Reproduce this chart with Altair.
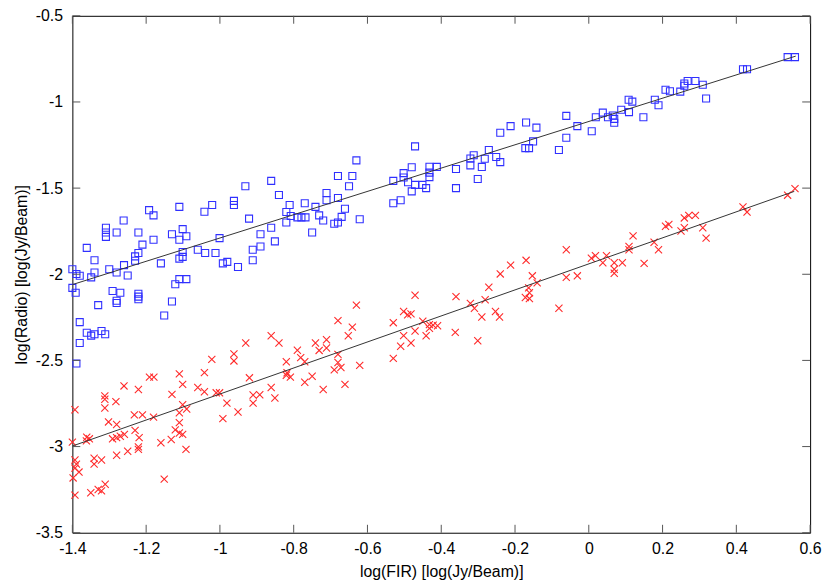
import altair as alt
import pandas as pd

# ---- data ----
blue_x = [-1.400, -1.389, -1.380, -1.400, -1.391, -1.361, -1.340, -1.340, -1.349, -1.309,
          -1.309, -1.309, -1.280, -1.261, -1.192, -1.180, -1.221, -1.210, -1.221, -1.230,
          -1.230, -1.260, -1.250, -1.300, -1.280, -1.180, -1.160, -1.110, -1.130, -1.101,
          -1.110, -1.091, -1.101, -1.101, -1.110, -1.060, -1.040, -1.012, -1.042, -1.021,
          -0.962, -0.962, -0.921, -1.001, -0.992, -0.980, -0.951, -0.911, -0.911,
          -1.110, -1.091, -1.121, -1.291, -1.270, -1.280, -1.280, -1.221, -1.221, -1.221,
          -1.330, -1.130, -1.151, -1.380, -1.361, -1.349, -1.340, -1.321, -1.311, -1.380,
          -1.389,
          -0.471, -0.630, -0.861, -0.931, -0.840, -0.680, -0.641, -0.650, -0.711, -0.711,
          -0.680, -0.811, -0.820, -0.820, -0.808, -0.790, -0.779, -0.768, -0.770, -0.741,
          -0.731, -0.720, -0.661, -0.670, -0.690, -0.680, -0.621, -0.750, -0.861, -0.890,
          -0.851, -0.890, -0.530, -0.502, -0.502, -0.490, -0.480, -0.471, -0.451, -0.441,
          -0.480, -0.530, -0.510, -0.432, -0.432, -0.432,
          -0.061, 0.019, 0.038, 0.052, 0.065, -0.031, 0.008, -0.061, -0.081, -0.170,
          -0.142, -0.212, -0.240, -0.151, -0.162, -0.172, -0.271, -0.312, -0.321, -0.321,
          -0.282, -0.251, -0.240, -0.290, -0.301, -0.360, -0.360, -0.412,
          0.539, 0.559, 0.418, 0.429, 0.268, 0.289, 0.259, 0.259, 0.309, 0.318,
          0.208, 0.220, 0.248, 0.179, 0.189, 0.108, 0.118, 0.109, 0.088, 0.069,
          0.069, 0.148]
blue_y = [-1.971, -1.998, -2.009, -2.079, -2.107, -1.847, -1.919, -1.990, -2.018, -1.730,
          -1.758, -1.783, -1.758, -1.688, -1.628, -1.658, -1.758, -1.828, -1.877, -1.896,
          -1.922, -1.947, -2.007, -1.971, -1.990, -1.800, -1.937, -1.609, -1.768, -1.738,
          -1.800, -1.779, -1.871, -1.899, -1.909, -1.858, -1.877, -1.877, -1.637, -1.598,
          -1.574, -1.598, -1.677, -1.790, -1.937, -1.928, -1.958, -1.858, -1.919,
          -2.028, -2.028, -2.058, -2.097, -2.107, -2.154, -2.167, -2.113, -2.130, -2.145,
          -2.179, -2.158, -2.239, -2.278, -2.339, -2.356, -2.348, -2.329, -2.348, -2.399,
          -2.518,
          -1.258, -1.339, -1.458, -1.489, -1.540, -1.430, -1.430, -1.489, -1.528, -1.570,
          -1.557, -1.598, -1.639, -1.700, -1.662, -1.670, -1.670, -1.670, -1.588, -1.609,
          -1.658, -1.688, -1.620, -1.667, -1.707, -1.700, -1.681, -1.758, -1.730, -1.768,
          -1.809, -1.839, -1.458, -1.413, -1.438, -1.466, -1.379, -1.481, -1.481, -1.500,
          -1.519, -1.588, -1.570, -1.376, -1.410, -1.436,
          -1.081, -1.089, -1.062, -1.089, -1.079, -1.140, -1.170, -1.208, -1.279, -1.119,
          -1.149, -1.140, -1.179, -1.229, -1.268, -1.268, -1.279, -1.309, -1.328, -1.368,
          -1.330, -1.319, -1.349, -1.377, -1.447, -1.389, -1.500, -1.377,
          -0.740, -0.740, -0.810, -0.810, -0.878, -0.878, -0.893, -0.906, -0.900, -0.980,
          -0.929, -0.938, -0.940, -0.987, -1.019, -0.987, -0.998, -1.059, -1.045, -1.098,
          -1.121, -1.089]

red_x = [-1.393, -1.400, -1.361, -1.354, -1.362, -1.312, -1.312, -1.312, -1.282, -1.260,
         -1.221, -1.191, -1.179, -1.110, -1.101, -1.042, -1.060, -1.042, -1.130, -1.010,
         -1.001, -1.022, -0.962, -0.962, -0.920, -0.910, -0.910, -0.981, -0.951, -0.992,
         -1.101, -1.090, -1.110, -1.110, -1.121, -1.110, -1.101, -1.132, -1.092, -1.160,
         -1.232, -1.210, -1.180, -1.302, -1.280, -1.230, -1.291, -1.280, -1.270, -1.259,
         -1.219, -1.221, -1.221, -1.250, -1.280, -1.393, -1.389, -1.393, -1.382, -1.398,
         -1.341, -1.341, -1.321, -1.393, -1.350, -1.330, -1.321, -1.311, -1.151, -0.930,
         -0.471, -0.630, -0.680, -0.641, -0.652, -0.861, -0.840, -0.741, -0.731, -0.711,
         -0.711, -0.790, -0.781, -0.770, -0.820, -0.680, -0.680, -0.672, -0.690, -0.621,
         -0.818, -0.809, -0.820, -0.750, -0.770, -0.720, -0.661, -0.861, -0.851, -0.892,
         -0.530, -0.502, -0.491, -0.482, -0.502, -0.482, -0.510, -0.530, -0.471, -0.450,
         -0.432, -0.422, -0.410, -0.441, -0.432,
         -0.061, 0.007, 0.018, 0.038, 0.048, 0.069, 0.091, 0.069, 0.069, -0.170,
         -0.212, -0.240, -0.153, -0.140, -0.061, -0.031, -0.163, -0.161, -0.172, -0.161,
         -0.081, -0.271, -0.360, -0.321, -0.310, -0.281, -0.253, -0.242, -0.290, -0.362,
         -0.301,
         0.539, 0.559, 0.418, 0.429, 0.259, 0.271, 0.289, 0.259, 0.250, 0.309,
         0.318, 0.208, 0.217, 0.177, 0.189, 0.120, 0.109, 0.109, 0.150]
red_y = [-2.786, -2.974, -2.946, -2.955, -2.967, -2.706, -2.725, -2.776, -2.739, -2.648,
         -2.669, -2.597, -2.597, -2.578, -2.639, -2.571, -2.657, -2.682, -2.697, -2.688,
         -2.688, -2.494, -2.462, -2.503, -2.601, -2.701, -2.748, -2.748, -2.799, -2.838,
         -2.757, -2.782, -2.804, -2.861, -2.903, -2.921, -2.929, -2.959, -3.016, -2.978,
         -2.816, -2.816, -2.829, -2.857, -2.872, -2.906, -2.955, -2.948, -2.940, -2.929,
         -2.948, -3.002, -3.016, -3.027, -3.050, -3.078, -3.102, -3.125, -3.148, -3.182,
         -3.068, -3.102, -3.078, -3.282, -3.268, -3.249, -3.257, -3.219, -3.189, -2.399,
         -2.122, -2.179, -2.269, -2.307, -2.357, -2.357, -2.399, -2.399, -2.442, -2.380,
         -2.428, -2.441, -2.484, -2.508, -2.508, -2.465, -2.512, -2.541, -2.555, -2.529,
         -2.572, -2.597, -2.586, -2.592, -2.627, -2.669, -2.639, -2.657, -2.718, -2.699,
         -2.281, -2.216, -2.235, -2.230, -2.356, -2.399, -2.418, -2.488, -2.329, -2.273,
         -2.292, -2.295, -2.299, -2.357, -2.314,
         -1.858, -1.907, -1.892, -1.933, -1.892, -1.933, -1.933, -1.971, -1.994, -1.919,
         -1.947, -1.998, -2.009, -2.050, -2.018, -2.009, -2.079, -2.107, -2.135, -2.141,
         -2.197, -2.075, -2.130, -2.169, -2.197, -2.148, -2.216, -2.248, -2.248, -2.337,
         -2.386,
         -1.541, -1.503, -1.609, -1.639, -1.673, -1.658, -1.658, -1.730, -1.749, -1.730,
         -1.790, -1.721, -1.711, -1.814, -1.858, -1.777, -1.839, -1.858, -1.937]

# fitted lines (end points)
fit_blue_x = [-1.400, 0.561]
fit_blue_y = [-2.060, -0.734]
fit_red_x = [-1.400, 0.557]
fit_red_y = [-2.997, -1.519]

x_ticks = [-1.4, -1.2, -1.0, -0.8, -0.6, -0.4, -0.2, 0.0, 0.2, 0.4, 0.6]
y_ticks = [-3.5, -3.0, -2.5, -2.0, -1.5, -1.0, -0.5]

x_title = "log(FIR) [log(Jy/Beam)]"
y_title = "log(Radio) [log(Jy/Beam)]"

# ---- chart ----
W, H = 745, 522
TICK = 8
FONT = "Liberation Sans"

x_scale = alt.Scale(domain=[-1.4, 0.6], nice=False, zero=False)
y_scale = alt.Scale(domain=[-3.5, -0.5], nice=False, zero=False)

x_axis = alt.Axis(values=x_ticks, labelExpr="'' + datum.value", ticks=False,
                  domain=False, grid=False, labelPadding=8, titlePadding=7,
                  labelFlush=False, labelOverlap=False, labelBound=False)
y_axis = alt.Axis(values=y_ticks, labelExpr="'' + datum.value", ticks=False,
                  domain=False, grid=False, labelPadding=10, titlePadding=6,
                  labelFlush=False, labelOverlap=False, labelBound=False)


def X(field):
    return alt.X(field, scale=x_scale, axis=x_axis, title=x_title)


def Y(field):
    return alt.Y(field, scale=y_scale, axis=y_axis, title=y_title)


blue_df = pd.DataFrame({"x": blue_x, "y": blue_y})
red_df = pd.DataFrame({"x": red_x, "y": red_y})
fit_df = pd.DataFrame({
    "x": fit_blue_x + fit_red_x,
    "y": fit_blue_y + fit_red_y,
    "s": ["b", "b", "r", "r"],
})
xt_df = pd.DataFrame({"x": x_ticks})
yt_df = pd.DataFrame({"y": y_ticks})

blue = alt.Chart(blue_df).mark_point(
    shape="square", filled=False, size=50, stroke="#3030ff", strokeWidth=1.1, opacity=1
).encode(x=X("x:Q"), y=Y("y:Q"))

red = alt.Chart(red_df).mark_point(
    shape="M-1,-1L1,1M-1,1L1,-1", filled=False, size=52, stroke="#ff2a2a",
    strokeWidth=1.1, opacity=1
).encode(x=X("x:Q"), y=Y("y:Q"))

fits = alt.Chart(fit_df).mark_line(color="#333333", strokeWidth=1).encode(
    x=X("x:Q"), y=Y("y:Q"), detail="s:N",
)

tick_color = "#555555"
bottom_ticks = alt.Chart(xt_df).mark_rule(color=tick_color, strokeWidth=1).encode(
    x=X("x:Q"), y=alt.value(H), y2=alt.value(H - TICK),
)
top_ticks = alt.Chart(xt_df).mark_rule(color=tick_color, strokeWidth=1).encode(
    x=X("x:Q"), y=alt.value(0), y2=alt.value(TICK),
)
left_ticks = alt.Chart(yt_df).mark_rule(color=tick_color, strokeWidth=1).encode(
    y=Y("y:Q"), x=alt.value(0), x2=alt.value(TICK),
)
right_ticks = alt.Chart(yt_df).mark_rule(color=tick_color, strokeWidth=1).encode(
    y=Y("y:Q"), x=alt.value(W), x2=alt.value(W - TICK),
)

chart = alt.layer(
    blue, red, fits, bottom_ticks, top_ticks, left_ticks, right_ticks
).properties(
    width=W, height=H,
    autosize=alt.AutoSizeParams(type="none"),
    padding={"left": 65, "top": 5, "right": 12, "bottom": 60},
).configure_view(
    stroke="black", strokeWidth=1
).configure_axis(
    labelFont=FONT, labelFontSize=16, labelColor="black",
    titleFont=FONT, titleFontSize=16, titleFontWeight="normal", titleColor="black",
)

chart.save("out.html", embed_options={"renderer": "svg", "actions": False})
